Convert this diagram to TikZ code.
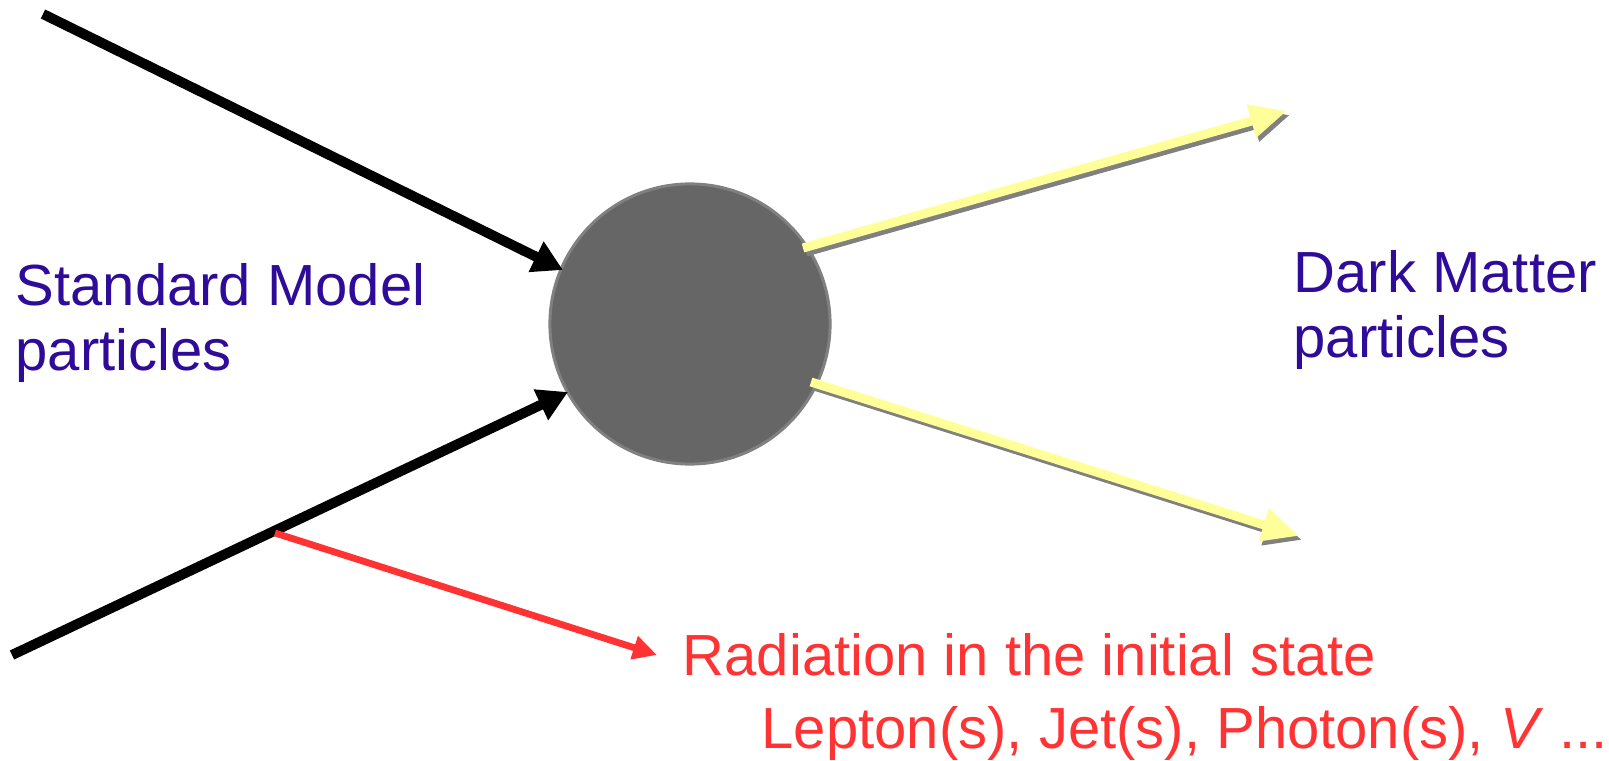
\documentclass[tikz,border=0pt]{standalone}
\usepackage{fontspec}
\setmainfont{Liberation Sans}
\usetikzlibrary{arrows.meta}
\definecolor{smblue}{HTML}{2E0B99}
\definecolor{radred}{HTML}{FF3333}
\definecolor{dmyellow}{HTML}{FFFF99}
\definecolor{blobgray}{HTML}{666666}
\definecolor{shadowgray}{HTML}{808080}
\begin{document}
\begin{tikzpicture}[x=0.01cm,y=-0.01cm,
  inarrow/.style={draw=black, line width=1mm, -{Triangle[length=3mm,width=3.2mm]}},
  radarrow/.style={draw=radred, line width=0.68mm, -{Triangle[length=2.4mm,width=2.3mm]}},
  dmarrow/.style={draw=dmyellow, line width=0.9mm, -{Triangle[length=3.7mm,width=3.2mm]}},
  dmshadow/.style={draw=shadowgray, line width=0.9mm, -{Triangle[length=3.7mm,width=3.2mm]}},
  lbl/.style={font=\fontsize{16.5}{18.6}\selectfont, inner sep=0, align=left, anchor=base west}]
\useasboundingbox (0,0) rectangle (1609,761);
% blob
\node[circle, fill=blobgray, draw=shadowgray, line width=0.3mm, minimum size=2.8cm, inner sep=0] (blob) at (690,324) {};
% coordinates
\coordinate (sm1) at (43,14);
\coordinate (sm2) at (12,655);
\coordinate (in1) at (563,270);
\coordinate (in2) at (568,392);
\coordinate (isr) at (275,533);
\coordinate (rad) at (657,655);
\coordinate (dm1s) at (803,248);
\coordinate (dm1e) at (1287,111);
\coordinate (dm2s) at (811,382);
\coordinate (dm2e) at (1299,536);
% incoming
\draw[inarrow] (sm1) -- (in1);
\draw[inarrow] (sm2) -- (in2);
% radiation
\draw[radarrow] (isr) -- (rad);
% dark matter with shadow
\draw[dmshadow] ([shift={(3,4)}]dm1s) -- ([shift={(3,4)}]dm1e);
\draw[dmarrow] (dm1s) -- (dm1e);
\draw[dmshadow] ([shift={(3,4)}]dm2s) -- ([shift={(3,4)}]dm2e);
\draw[dmarrow] (dm2s) -- (dm2e);
% labels (base = baseline of last line)
\node[lbl, text=smblue] (smlbl) at (15,371) {Standard Model\\particles};
\node[lbl, text=smblue] (dmlbl) at (1293,358) {Dark Matter\\particles};
\node[lbl, text=radred] (radlbl) at (682,675) {Radiation in the initial state};
\node[lbl, text=radred] (finlbl) at (761,748) {Lepton(s), Jet(s), Photon(s), \textit{V} ...};
\end{tikzpicture}
\end{document}
